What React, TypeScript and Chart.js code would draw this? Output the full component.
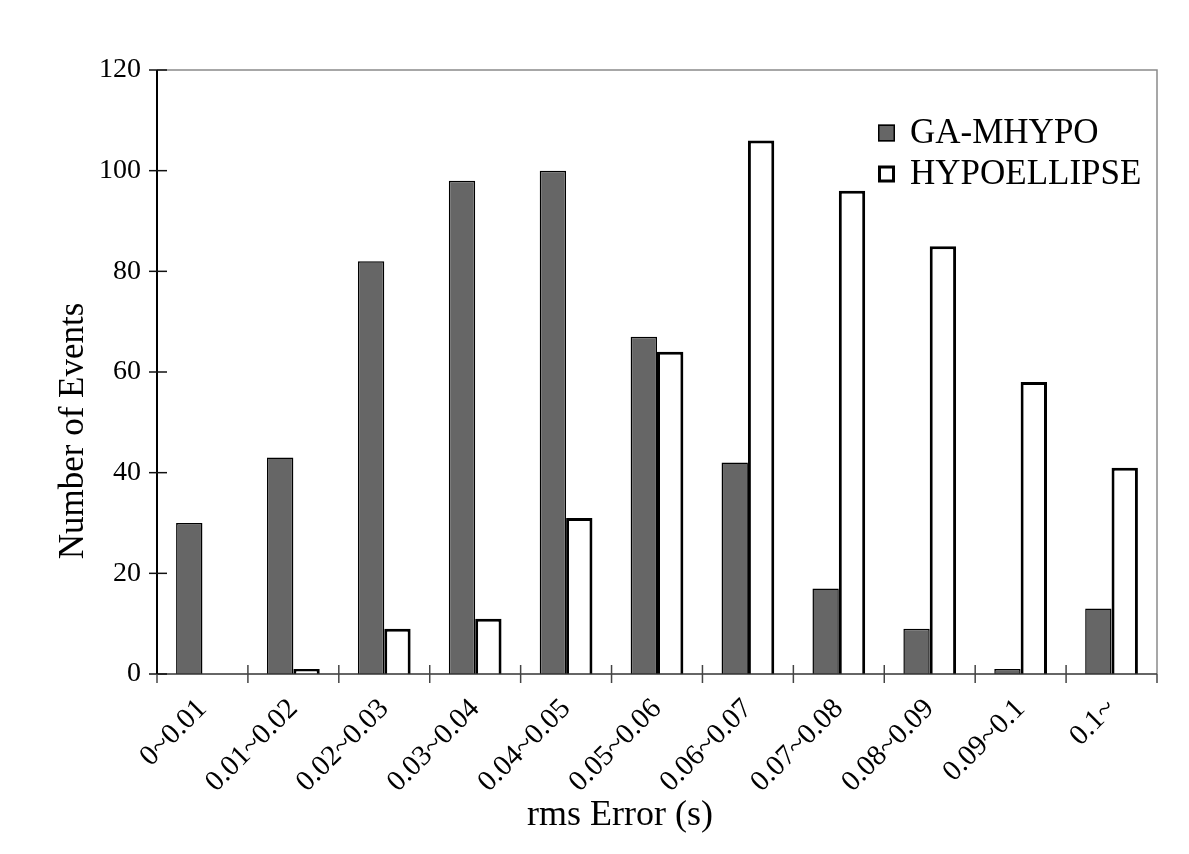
import React, { useEffect, useRef } from "react";
import { Chart, registerables } from "chart.js";

Chart.register(...registerables);

const categories = [
  "0~0.01", "0.01~0.02", "0.02~0.03", "0.03~0.04", "0.04~0.05", "0.05~0.06",
  "0.06~0.07", "0.07~0.08", "0.08~0.09", "0.09~0.1", "0.1~",
];
const gaMhypo = [30, 43, 82, 98, 100, 67, 42, 17, 9, 1, 13];
const hypoellipse = [0, 1, 9, 11, 31, 64, 106, 96, 85, 58, 41];
const seriesNames = ["GA-MHYPO", "HYPOELLIPSE"];
const yTitle = "Number of Events";
const xTitle = "rms Error (s)";

const FONT = "'Liberation Serif', 'Times New Roman', serif";

const framePlugin = {
  id: "framePlugin",
  afterDatasetsDraw(chart: any) {
    const { ctx, chartArea, scales } = chart;
    const { left, right, top, bottom } = chartArea;
    ctx.save();
    ctx.strokeStyle = "#8a8a8a";
    ctx.lineWidth = 1.5;
    ctx.beginPath();
    ctx.moveTo(left, top);
    ctx.lineTo(right, top);
    ctx.lineTo(right, bottom);
    ctx.stroke();
    ctx.strokeStyle = "#333";
    ctx.lineWidth = 1.5;
    ctx.beginPath();
    ctx.moveTo(left, bottom);
    ctx.lineTo(right, bottom);
    ctx.stroke();
    ctx.strokeStyle = "#000";
    ctx.lineWidth = 2;
    ctx.beginPath();
    ctx.moveTo(left, top);
    ctx.lineTo(left, bottom);
    ctx.stroke();
    const y = scales.y;
    ctx.lineWidth = 1.5;
    ctx.strokeStyle = "#111";
    y.ticks.forEach((t: any) => {
      const py = y.getPixelForValue(t.value);
      ctx.beginPath();
      ctx.moveTo(left - 8, py);
      ctx.lineTo(left + 10, py);
      ctx.stroke();
    });
    const x = scales.x;
    ctx.strokeStyle = "#444";
    for (let i = 0; i <= categories.length; i++) {
      const px = x.getPixelForValue(i - 0.5);
      const edge = i === 0 || i === categories.length;
      ctx.beginPath();
      ctx.moveTo(px, edge ? bottom : bottom - 9);
      ctx.lineTo(px, bottom + 9);
      ctx.stroke();
    }
    ctx.restore();
  },
  afterDraw(chart: any) {
    const { ctx, chartArea } = chart;
    ctx.save();
    ctx.fillStyle = "#000";
    ctx.font = `35px ${FONT}`;
    ctx.textAlign = "center";
    ctx.textBaseline = "middle";
    ctx.save();
    ctx.translate(74, 431);
    ctx.rotate(-Math.PI / 2);
    ctx.fillText(yTitle, 0, 0);
    ctx.restore();
    ctx.font = `36px ${FONT}`;
    ctx.fillText(xTitle, 620, 816);
    const items = [
      { name: seriesNames[0], fill: "#666666", lw: 1.5, cy: 133 },
      { name: seriesNames[1], fill: "#ffffff", lw: 3, cy: 174 },
    ];
    const bx = chartArea.right - 279;
    items.forEach((it) => {
      ctx.fillStyle = it.fill;
      ctx.fillRect(bx, it.cy - 8.5, 17, 17);
      ctx.strokeStyle = "#000";
      ctx.lineWidth = it.lw;
      ctx.strokeRect(bx + it.lw / 2, it.cy - 8.5 + it.lw / 2, 17 - it.lw, 17 - it.lw);
      ctx.fillStyle = "#000";
      ctx.font = `35px ${FONT}`;
      ctx.textAlign = "left";
      ctx.textBaseline = "middle";
      ctx.fillText(it.name, bx + 32, it.cy + 1);
    });
    ctx.restore();
  },
};

export default function App() {
  const canvasRef = useRef<HTMLCanvasElement>(null);

  useEffect(() => {
    if (!canvasRef.current) return;
    const chart = new Chart(canvasRef.current, {
      type: "bar",
      data: {
        labels: categories,
        datasets: [
          {
            label: seriesNames[0],
            data: gaMhypo,
            backgroundColor: "#666666",
            borderColor: "#000000",
            borderWidth: 1.5,
            categoryPercentage: 0.58,
            barPercentage: 1.0,
          },
          {
            label: seriesNames[1],
            data: hypoellipse,
            backgroundColor: "#ffffff",
            borderColor: "#000000",
            borderWidth: 3,
            categoryPercentage: 0.58,
            barPercentage: 1.0,
          },
        ],
      },
      options: {
        responsive: false,
        animation: false,
        layout: { padding: { top: 70, right: 32, left: 0, bottom: 0 } },
        plugins: {
          legend: { display: false },
          tooltip: { enabled: false },
          title: { display: false },
        },
        scales: {
          x: {
            grid: { display: false },
            border: { display: false },
            ticks: {
              color: "#000",
              font: { family: FONT, size: 29 },
              maxRotation: 45,
              minRotation: 45,
              padding: 10,
              autoSkip: false,
            },
            afterFit: (s: any) => {
              s.height = 180;
            },
          },
          y: {
            min: 0,
            max: 120,
            grid: { display: false },
            border: { display: false },
            ticks: {
              stepSize: 20,
              color: "#000",
              font: { family: FONT, size: 28 },
              padding: 8,
            },
            afterFit: (s: any) => {
              s.width = 157;
            },
          },
        },
      },
      plugins: [framePlugin],
    });
    return () => chart.destroy();
  }, []);

  return (
    <div style={{ position: "fixed", left: 0, top: 0, width: 1189, height: 854, background: "#fff" }}>
      <canvas ref={canvasRef} width={1189} height={854} />
    </div>
  );
}
